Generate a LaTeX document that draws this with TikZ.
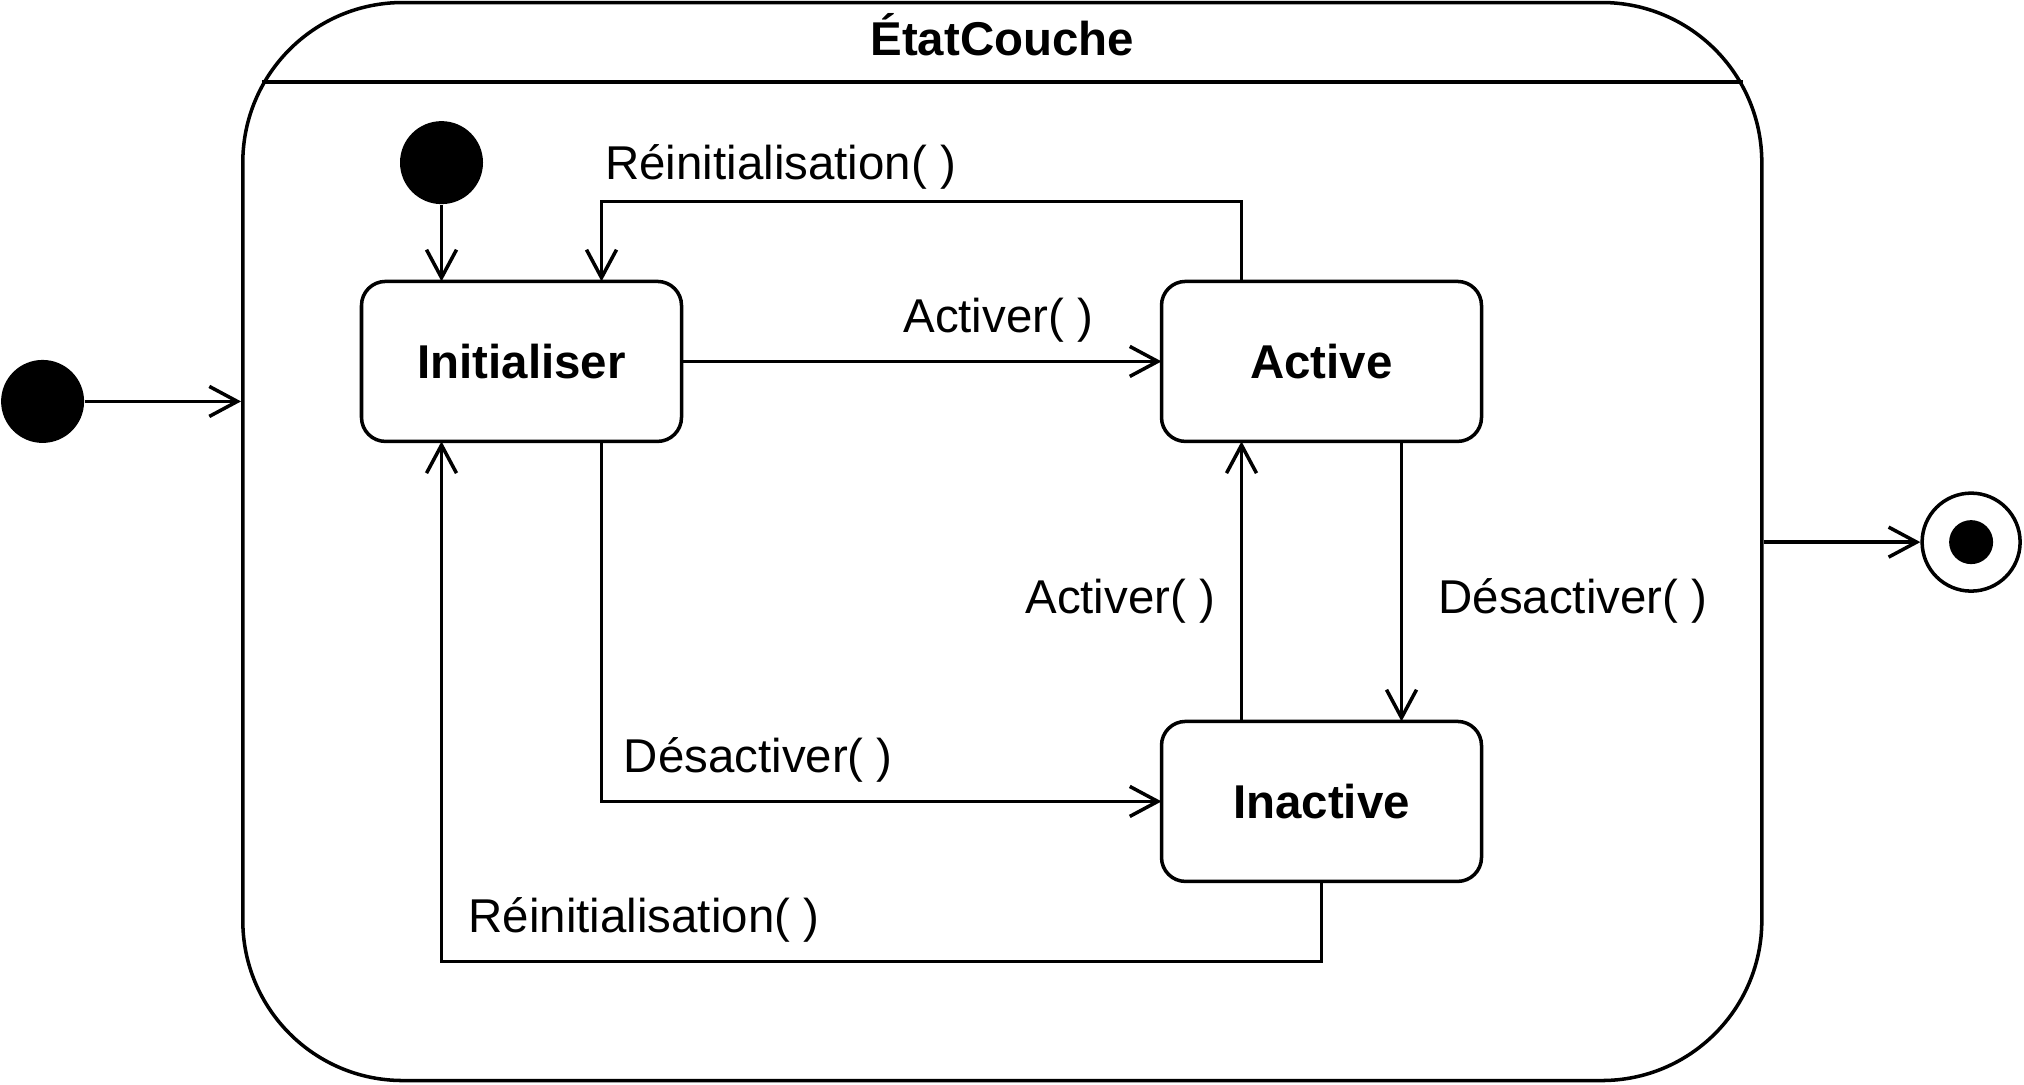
\documentclass[tikz,border=0pt]{standalone}
\usepackage{fontspec}
\setmainfont{Liberation Sans}
\usetikzlibrary{arrows.meta, positioning, shapes, calc}
\newcommand{\lbl}{\fontsize{13.5}{16}\selectfont}

\begin{document}
\begin{tikzpicture}[
  state/.style = {draw, line width=1pt, outer sep=0pt, minimum width=3.2cm, minimum height=1.6cm, align=center, rounded corners=2.4mm, font=\lbl\bfseries},
  composite/.style = {draw, line width=1pt, minimum width=15.19cm, minimum height=10.78cm, rounded corners=1.6cm},
  dot/.style = {circle, fill=black, inner sep=0pt, minimum size=0.83cm},
  final/.style = {circle, draw, line width=1pt, inner sep=0pt, minimum size=0.98cm},
  line/.style = {line width=1pt, -{Straight Barb[length=2.8mm, width=3mm]}},
  signal/.style = {font=\lbl, inner sep=2pt}
]
\useasboundingbox (0,0) rectangle (20.24,-10.84);

% Nodes
\node[composite] (couche) at (10.023,-5.415) {};
\node[font=\lbl\bfseries] (titre) at ([yshift=-0.34cm]couche.north) {ÉtatCouche};
\draw[line width=1pt] ([shift={(0.21,-0.81)}]couche.north west) -- ([shift={(-0.21,-0.81)}]couche.north east);

\node[state] (init) at (5.215,-3.614) {Initialiser};
\node[state, right=4.8cm of init] (active) {Active};
\node[state, below=2.8cm of active] (inactive) {Inactive};

\node[dot] (start) at (0.426,-4.014) {};
\node[dot] (debut) at (4.415,-1.626) {};
\node[final] (fin) at (19.711,-5.421) {};
\node[dot, minimum size=0.44cm] (finpoint) at (fin) {};

% Connections
\draw[line] (start) -- (start -| couche.west);
\draw[line] (debut) -- (debut |- init.north);
\draw[line] (init) -- node[signal, pos=0.66, above=3pt]{Activer( )} (active);
\draw[line] ([xshift=0.8cm]active.north west) -- ++(0,0.8) -| node[signal, pos=0.36, above=1pt]{Réinitialisation( )} ([xshift=-0.8cm]init.north east);
\draw[line] ([xshift=-0.8cm]init.south east) |- node[signal, pos=0.64, above=3pt]{Désactiver( )} (inactive.west);
\draw[line] ([xshift=0.8cm]inactive.north west) -- node[signal, pos=0.43, left=5pt]{Activer( )} ([xshift=0.8cm]active.south west);
\draw[line] ([xshift=-0.8cm]active.south east) -- node[signal, pos=0.57, right=8pt]{Désactiver( )} ([xshift=-0.8cm]inactive.north east);
\draw[line] (inactive.south) -- ++(0,-0.8) -| node[signal, pos=0.385, above=3pt]{Réinitialisation( )} ([xshift=0.8cm]init.south west);

% Exit
\draw[line] (couche.east |- fin) -- (fin);

\end{tikzpicture}
\end{document}
